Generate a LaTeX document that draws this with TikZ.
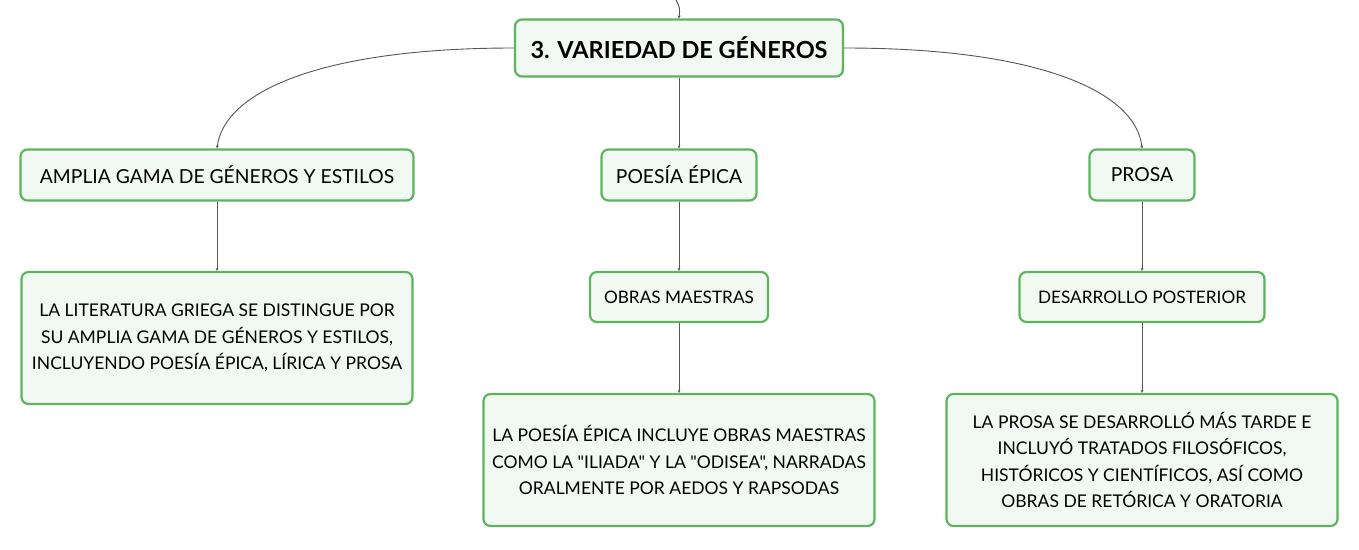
\documentclass[tikz,border=0pt]{standalone}
\usepackage{fontspec}
\setmainfont{Lato}[Ligatures=TeXOff]
\usetikzlibrary{arrows.meta}
\definecolor{boxgreen}{HTML}{5BB55F}
\definecolor{boxfill}{HTML}{F2F9F2}
\definecolor{linegray}{HTML}{555555}
\begin{document}
\begin{tikzpicture}[x=1pt,y=-1pt,
  box/.style={draw=boxgreen, line width=2.2pt, fill=boxfill, rounded corners=7pt, align=center, inner sep=0pt},
  headbox/.style={box, font=\fontsize{19.3}{23}\selectfont, minimum height=51pt},
  subbox/.style={box, font=\fontsize{17.2}{21}\selectfont, minimum height=50pt},
  textbox/.style={box, font=\fontsize{17.5}{26.5}\selectfont, minimum width=391pt, minimum height=132pt},
  link/.style={draw=linegray, line width=0.9pt, -{Stealth[length=3pt,width=3pt]}}]
\useasboundingbox (0,0) rectangle (1359,549);

% Root
\node[box, minimum width=328pt, minimum height=57pt, font=\fontsize{23.5}{27}\selectfont\bfseries] (root) at (679,48) {3. VARIEDAD DE GÉNEROS};
\coordinate (up) at (676,0);

% First level
\node[headbox, minimum width=393pt] (amplia) at (217,175) {AMPLIA GAMA DE GÉNEROS Y ESTILOS};
\node[headbox, minimum width=155pt] (poesia) at (679,175) {POESÍA ÉPICA};
\node[headbox, minimum width=105pt] (prosa) at (1142,175) {PROSA};

% Second level
\node[textbox] (literatura) at (217,338) {LA LITERATURA GRIEGA SE DISTINGUE POR\\SU AMPLIA GAMA DE GÉNEROS Y ESTILOS,\\INCLUYENDO POESÍA ÉPICA, LÍRICA Y PROSA};
\node[subbox, minimum width=178pt] (obras) at (679,297) {OBRAS MAESTRAS};
\node[subbox, minimum width=245pt] (desarrollo) at (1142,297) {DESARROLLO POSTERIOR};

% Third level
\node[textbox] (epica) at (679,460) {LA POESÍA ÉPICA INCLUYE OBRAS MAESTRAS\\COMO LA "ILIADA" Y LA "ODISEA", NARRADAS\\ORALMENTE POR AEDOS Y RAPSODAS};
\node[textbox] (prosatxt) at (1142,460) {LA PROSA SE DESARROLLÓ MÁS TARDE E\\INCLUYÓ TRATADOS FILOSÓFICOS,\\HISTÓRICOS Y CIENTÍFICOS, ASÍ COMO\\OBRAS DE RETÓRICA Y ORATORIA};

% Connectors
\draw[link] (up) .. controls (680,8) .. (root.north);
\draw[link] (root.west) .. controls (320,48) and (224,92) .. (amplia.north);
\draw[link] (root.east) .. controls (1040,48) and (1136,92) .. (prosa.north);
\draw[link] (root) -- (poesia);
\draw[link] (amplia) -- (literatura);
\draw[link] (poesia) -- (obras);
\draw[link] (obras) -- (epica);
\draw[link] (prosa) -- (desarrollo);
\draw[link] (desarrollo) -- (prosatxt);
\end{tikzpicture}
\end{document}
